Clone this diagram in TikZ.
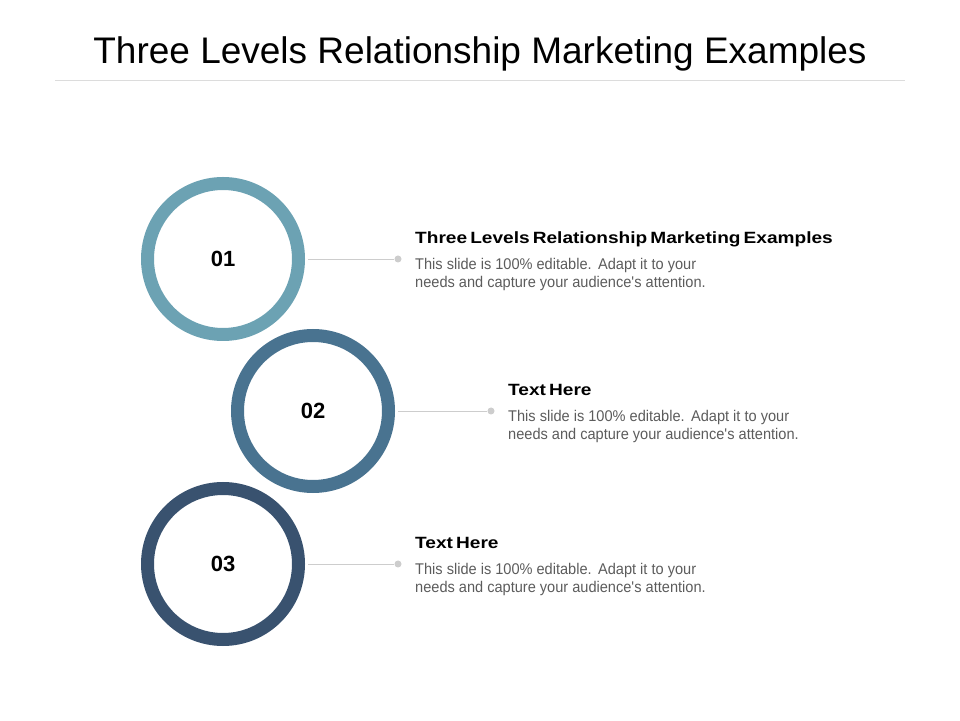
\documentclass[tikz,border=0pt]{standalone}
\usepackage{fontspec}
\setmainfont{Liberation Sans}
\newfontfamily\headfont{Liberation Sans}[FakeStretch=1.17,WordSpace=0.6]
\newfontfamily\bodyfont{Liberation Sans}[FakeStretch=0.94]
\usetikzlibrary{positioning}

\definecolor{ringA}{RGB}{108,162,179}
\definecolor{ringB}{RGB}{73,115,144}
\definecolor{ringC}{RGB}{57,82,111}
\definecolor{bodygray}{RGB}{92,92,92}
\definecolor{linegray}{RGB}{205,205,205}
\definecolor{rulegray}{RGB}{220,220,220}

\newcommand{\blurb}{This slide is 100\% editable.\hspace{1pt} Adapt it to your\\needs and capture your audience\textquotesingle s attention.}

\begin{document}
\begin{tikzpicture}[x=1pt,y=1pt,
	ring/.style={circle,draw=#1,line width=13pt,minimum size=151pt,inner sep=0pt,
		font=\fontsize{22}{26}\selectfont\bfseries},
	dot/.style={circle,fill=linegray,inner sep=0pt,minimum size=7pt},
	link/.style={draw=linegray,line width=0.8pt},
	head/.style={anchor=base west,inner sep=0pt,font=\headfont\fontsize{16.3}{19}\selectfont\bfseries},
	body/.style={anchor=north west,inner sep=0pt,align=left,text=bodygray,
		font=\bodyfont\fontsize{15.5}{18}\selectfont}
	]
	\useasboundingbox (0,0) rectangle (960,720);

	\node[anchor=base,inner sep=0pt,font=\fontsize{37}{44}\selectfont] (title) at (480,656) {Three Levels Relationship Marketing Examples};
	\coordinate (r0) at (55,640);
	\coordinate (r1) at (905,640);
	\draw[rulegray,line width=0.8pt] (r0) -- (r1);

	% rings
	\node[ring=ringA] (c1) at (223,461) {01};
	\node[ring=ringB] (c2) at (313,309) {02};
	\node[ring=ringC] (c3) at (223,156) {03};

	\node[dot] (d1) at (398,461) {};
	\node[dot] (d2) at (491,309) {};
	\node[dot] (d3) at (398,156) {};

	\coordinate[right=3pt of c1] (s1);
	\coordinate[right=3pt of c2] (s2);
	\coordinate[right=3pt of c3] (s3);
	\draw[link] (s1) -- (d1);
	\draw[link] (s2) -- (d2);
	\draw[link] (s3) -- (d3);

	% texts
	\node[head] (h1) at (415,476.7) {Three Levels Relationship Marketing Examples};
	\node[body] (b1) at (415,462.4) {\blurb};

	\node[head] (h2) at (508,324.7) {Text Here};
	\node[body] (b2) at (508,310.4) {\blurb};

	\node[head] (h3) at (415,171.7) {Text Here};
	\node[body] (b3) at (415,157.4) {\blurb};

\end{tikzpicture}
\end{document}
